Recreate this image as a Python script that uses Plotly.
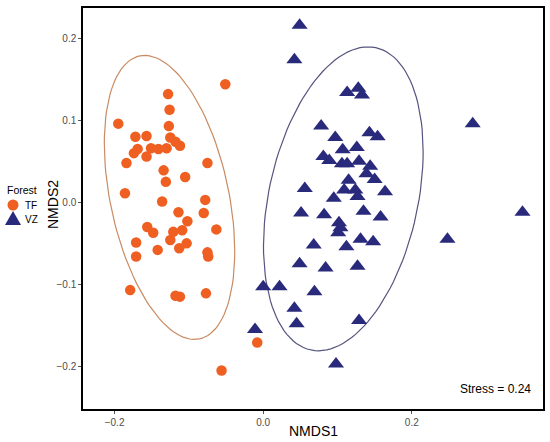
import numpy as np
import plotly.graph_objects as go

# NMDS scores
tf_x = [-0.051, -0.128, -0.126, -0.195, -0.127, -0.172, -0.157, -0.125, -0.118, -0.112,
        -0.169, -0.174, -0.151, -0.141, -0.130, -0.157, -0.184, -0.075, -0.134, -0.131,
        -0.105, -0.186, -0.136, -0.078, -0.114, -0.080, -0.102, -0.156, -0.148, -0.121,
        -0.063, -0.109, -0.171, -0.125, -0.113, -0.103, -0.142, -0.171, -0.075, -0.074,
        -0.179, -0.118, -0.112, -0.077, -0.056, -0.008]
tf_y = [0.144, 0.132, 0.113, 0.096, 0.093, 0.080, 0.081, 0.079, 0.074, 0.069,
        0.065, 0.060, 0.066, 0.065, 0.066, 0.056, 0.048, 0.048, 0.039, 0.025,
        0.031, 0.011, 0.001, 0.003, -0.012, -0.013, -0.023, -0.030, -0.037, -0.036,
        -0.033, -0.034, -0.049, -0.046, -0.056, -0.050, -0.058, -0.066, -0.061, -0.066,
        -0.107, -0.114, -0.115, -0.111, -0.205, -0.171]

vz_x = [0.049, 0.042, 0.113, 0.128, 0.133, 0.078, 0.097, 0.143, 0.154, 0.107,
        0.126, 0.081, 0.089, 0.106, 0.113, 0.129, 0.144, 0.139, 0.150, 0.115,
        0.056, 0.109, 0.124, 0.164, 0.095, 0.127, 0.135, 0.158, 0.051, 0.082,
        0.102, 0.104, 0.101, 0.131, 0.148, 0.112, 0.068, 0.049, 0.084, 0.127,
        0.000, 0.022, 0.069, 0.042, 0.045, 0.129, -0.011, 0.098, 0.282, 0.349,
        0.248]
vz_y = [0.216, 0.174, 0.134, 0.139, 0.131, 0.093, 0.079, 0.085, 0.080, 0.064,
        0.067, 0.056, 0.051, 0.047, 0.047, 0.050, 0.044, 0.035, 0.028, 0.027,
        0.017, 0.015, 0.015, 0.013, 0.005, 0.007, -0.011, -0.018, -0.013, -0.015,
        -0.025, -0.031, -0.037, -0.045, -0.048, -0.054, -0.052, -0.075, -0.080, -0.078,
        -0.103, -0.103, -0.109, -0.129, -0.148, -0.144, -0.155, -0.197, 0.096, -0.012,
        -0.045]

stress_label = "Stress = 0.24"

TF_COL = "#f05f22"
VZ_COL = "#2a2a7c"


def cov_trob(pts, nu=5, maxit=25, tol=0.01):
    # port of MASS::cov.trob (multivariate t, robust centre + scatter)
    n, p = pts.shape
    loc = pts.mean(axis=0)
    w = np.ones(n)
    for _ in range(maxit):
        w0 = w
        X = pts - loc
        Xw = np.sqrt(w / w.sum())[:, None] * X
        S = Xw.T @ Xw
        Q = np.sum((X @ np.linalg.inv(S)) * X, axis=1)
        w = (nu + p) / (nu + Q)
        loc = (w[:, None] * pts).sum(axis=0) / w.sum()
        if np.all(np.abs(w - w0) < tol):
            break
    X = pts - loc
    cov = (np.sqrt(w)[:, None] * X).T @ (np.sqrt(w)[:, None] * X) / n
    return loc, cov


def conf_ellipse(x, y, level=0.95, segments=120):
    # same recipe as ggplot2 stat_ellipse(type = "t")
    pts = np.column_stack([x, y])
    n = len(pts)
    center, cov = cov_trob(pts)
    d2 = n - 1
    fq = (d2 / 2) * ((1 - level) ** (-2 / d2) - 1)  # qf(level, 2, d2)
    radius = np.sqrt(2 * fq)
    t = np.linspace(0, 2 * np.pi, segments + 1)
    circle = np.column_stack([np.cos(t), np.sin(t)])
    chol = np.linalg.cholesky(cov).T  # upper triangle like R chol()
    e = center + radius * circle @ chol
    return e[:, 0], e[:, 1]


fig = go.Figure()

ex, ey = conf_ellipse(tf_x, tf_y)
fig.add_trace(go.Scatter(x=ex, y=ey, mode="lines", line=dict(color="#c98b62", width=1.2),
                         showlegend=False, hoverinfo="skip"))
ex, ey = conf_ellipse(vz_x, vz_y)
fig.add_trace(go.Scatter(x=ex, y=ey, mode="lines", line=dict(color="#55557f", width=1.2),
                         showlegend=False, hoverinfo="skip"))

fig.add_trace(go.Scatter(x=tf_x, y=tf_y, mode="markers", name="TF", showlegend=False,
                         marker=dict(symbol="circle", size=10.5, color=TF_COL, line=dict(width=0))))
fig.add_trace(go.Scatter(x=vz_x, y=vz_y, mode="markers", name="VZ", showlegend=False,
                         marker=dict(symbol="triangle-up", size=14, color=VZ_COL, line=dict(width=0))))

fig.add_annotation(x=0.363, y=-0.228, text=stress_label, showarrow=False,
                   xanchor="right", yanchor="middle",
                   font=dict(size=12, color="black"))

# plot area in page pixels: 83..543 wide, 8..409 tall
L, W, B, H = 83, 460, 409, 401


def px(v):
    return (v - L) / W


def py(v):
    return (B - v) / H


# axis titles
fig.add_annotation(x=px(313), y=py(431), xref="paper", yref="paper", text="NMDS1",
                   showarrow=False, xanchor="center", yanchor="middle",
                   font=dict(size=14, color="black"))
fig.add_annotation(x=px(53), y=py(205), xref="paper", yref="paper", text="NMDS2",
                   showarrow=False, textangle=-90, xanchor="center", yanchor="middle",
                   font=dict(size=14, color="black"))

# hand-made legend in the left margin
fig.add_annotation(x=px(5), y=py(190), xref="paper", yref="paper", text="Forest",
                   showarrow=False, xanchor="left", yanchor="middle",
                   font=dict(size=10.5, color="black"))
for label, ypos in [("TF", 205), ("VZ", 219)]:
    fig.add_annotation(x=px(23), y=py(ypos), xref="paper", yref="paper", text=label,
                       showarrow=False, xanchor="left", yanchor="middle",
                       font=dict(size=10, color="black"))
fig.add_shape(type="circle", xref="paper", yref="paper", xsizemode="pixel", ysizemode="pixel",
              xanchor=px(13), yanchor=py(205), x0=-5.5, x1=5.5, y0=-5.5, y1=5.5,
              fillcolor=TF_COL, line=dict(width=0))
fig.add_shape(type="path", xref="paper", yref="paper", xsizemode="pixel", ysizemode="pixel",
              xanchor=px(13), yanchor=py(219), path="M -8 -6 L 8 -6 L 0 8 Z",
              fillcolor=VZ_COL, line=dict(width=0))

axis_common = dict(showgrid=False, zeroline=False, showline=True, linecolor="black",
                   linewidth=1.5, mirror=True, ticks="outside", ticklen=3,
                   tickcolor="#555555", tickfont=dict(size=10, color="#4d4d4d"))

fig.update_xaxes(range=[-0.2425, 0.3766],
                 tickvals=[-0.2, 0.0, 0.2], ticktext=["\u22120.2", "0.0", "0.2"],
                 **axis_common)
fig.update_yaxes(range=[-0.252, 0.237],
                 tickvals=[-0.2, -0.1, 0.0, 0.1, 0.2],
                 ticktext=["\u22120.2", "\u22120.1", "0.0", "0.1", "0.2"], **axis_common)

fig.update_layout(
    width=550, height=442,
    margin=dict(l=83, r=7, t=8, b=33, autoexpand=False),
    plot_bgcolor="white", paper_bgcolor="white",
    font=dict(family="Liberation Sans, Arial, sans-serif"),
    showlegend=False,
)

fig.write_html("out.html", config={"displayModeBar": False},
               post_script="document.body.style.margin = '0px';")
